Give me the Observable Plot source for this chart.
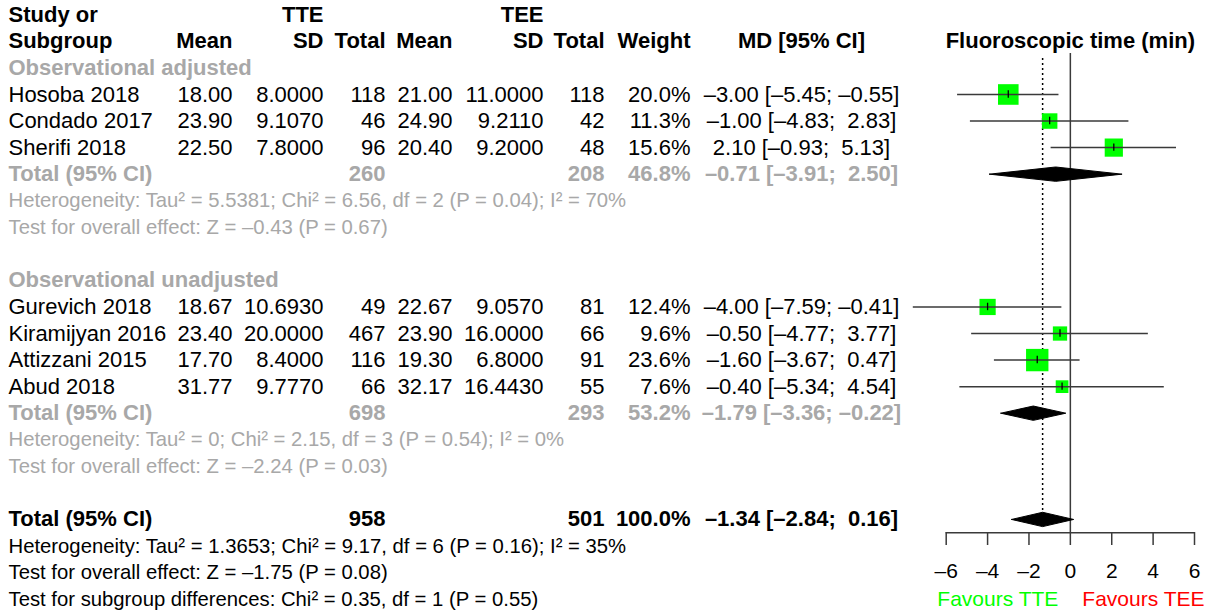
<!DOCTYPE html>
<html>
<head>
<meta charset="utf-8">
<script src="https://cdn.jsdelivr.net/npm/d3@7"></script>
<script src="https://cdn.jsdelivr.net/npm/@observablehq/plot@0.6"></script>
<style>
  html, body { margin: 0; padding: 0; background: #fff; }
  svg text { white-space: pre; }
</style>
</head>
<body>
<div id="chart"></div>
<script>
// ---------- data ----------
const studyNames = ["Hosoba 2018","Condado 2017","Sherifi 2018","Gurevich 2018","Kiramijyan 2016","Attizzani 2015","Abud 2018"];
const studyGroup = [0,0,0,1,1,1,1];
const tteMean = [18.00,23.90,22.50,18.67,23.40,17.70,31.77];
const tteSD   = [8.0000,9.1070,7.8000,10.6930,20.0000,8.4000,9.7770];
const tteN    = [118,46,96,49,467,116,66];
const teeMean = [21.00,24.90,20.40,22.67,23.90,19.30,32.17];
const teeSD   = [11.0000,9.2110,9.2000,9.0570,16.0000,6.8000,16.4430];
const teeN    = [118,42,48,81,66,91,55];
const weights = [20.0,11.3,15.6,12.4,9.6,23.6,7.6];
const md      = [-3.00,-1.00,2.10,-4.00,-0.50,-1.60,-0.40];
const ciLo    = [-5.45,-4.83,-0.93,-7.59,-4.77,-3.67,-5.34];
const ciHi    = [-0.55,2.83,5.13,-0.41,3.77,0.47,4.54];

const groupNames  = ["Observational adjusted","Observational unadjusted"];
const groupTTEN   = [260,698];
const groupTEEN   = [208,293];
const groupWeight = [46.8,53.2];
const groupMD     = [-0.71,-1.79];
const groupLo     = [-3.91,-3.36];
const groupHi     = [2.50,-0.22];
const groupHet    = ["Heterogeneity: Tau² = 5.5381; Chi² = 6.56, df = 2 (P = 0.04); I² = 70%",
                     "Heterogeneity: Tau² = 0; Chi² = 2.15, df = 3 (P = 0.54); I² = 0%"];
const groupTest   = ["Test for overall effect: Z = –0.43 (P = 0.67)",
                     "Test for overall effect: Z = –2.24 (P = 0.03)"];

const totalLabel = "Total (95% CI)";
const overallTTEN = 958, overallTEEN = 501, overallWeight = 100.0;
const overallMD = -1.34, overallLo = -2.84, overallHi = 0.16;
const overallHet  = "Heterogeneity: Tau² = 1.3653; Chi² = 9.17, df = 6 (P = 0.16); I² = 35%";
const overallTest = "Test for overall effect: Z = –1.75 (P = 0.08)";
const subgroupTest = "Test for subgroup differences: Chi² = 0.35, df = 1 (P = 0.55)";

const header1 = {study: "Study or", tte: "TTE", tee: "TEE"};
const header2 = {study: "Subgroup", mean1: "Mean", sd1: "SD", n1: "Total", mean2: "Mean", sd2: "SD", n2: "Total", w: "Weight", ci: "MD [95% CI]"};
const plotTitle = "Fluoroscopic time (min)";
const xTicks = [-6,-4,-2,0,2,4,6];
const labelLeft = "Favours TTE", labelRight = "Favours TEE";

// ---------- formatting ----------
const sgn = v => (v < 0 ? "–" : "") + Math.abs(v).toFixed(2);
const ciText = (m, lo, hi) => `${sgn(m)} [${sgn(lo)};${hi < 0 ? " " : "  "}${sgn(hi)}]`;
const pct = w => w.toFixed(1) + "%";

// ---------- layout (rows) ----------
const GREY = "#a8a8a8", GREEN = "#00ff00", RED = "#ff0000", LINE = "#3a3a3a";
const studyRows = [], labelRows = [], totalRows = [], noteRows = [];
let r = 2;
groupNames.forEach((g, gi) => {
  labelRows.push({row: r, text: g}); r++;
  studyNames.forEach((s, i) => {
    if (studyGroup[i] === gi) {
      studyRows.push({row: r, name: s, m1: tteMean[i].toFixed(2), s1: tteSD[i].toFixed(4), n1: tteN[i],
        m2: teeMean[i].toFixed(2), s2: teeSD[i].toFixed(4), n2: teeN[i], w: weights[i],
        md: md[i], lo: ciLo[i], hi: ciHi[i]});
      r++;
    }
  });
  totalRows.push({row: r, name: totalLabel, n1: groupTTEN[gi], n2: groupTEEN[gi], w: groupWeight[gi],
    md: groupMD[gi], lo: groupLo[gi], hi: groupHi[gi], fill: GREY});
  r++;
  noteRows.push({row: r, text: groupHet[gi], fill: GREY}); r++;
  noteRows.push({row: r, text: groupTest[gi], fill: GREY}); r++;
  r++;
});
const overallRow = r;
totalRows.push({row: r, name: totalLabel, n1: overallTTEN, n2: overallTEEN, w: overallWeight,
  md: overallMD, lo: overallLo, hi: overallHi, fill: "black"});
r++;
noteRows.push({row: r, text: overallHet, fill: "black"}); r++;
noteRows.push({row: r, text: overallTest, fill: "black"}); r++;
noteRows.push({row: r, text: subgroupTest, fill: "black"});
const lastRow = r;
const axisRow = overallRow + 0.5;

// column pixel anchors
const C = {study: 8, mean1: 232, sd1: 323, n1: 385, mean2: 452, sd2: 543, n2: 604, w: 690, ci: 801};
const FS = 22, FSN = 20.3;

const col = (data, text, key, anchor, extra = {}) =>
  Plot.text(data, {y: "row", text, frameAnchor: "left", dx: C[key], textAnchor: anchor, fontSize: FS, ...extra});

// diamonds
const diamonds = totalRows.flatMap((d, k) => {
  const h = 0.27;
  return [
    {k, x: d.lo, y: d.row}, {k, x: d.md, y: d.row - h}, {k, x: d.hi, y: d.row},
    {k, x: d.md, y: d.row + h}, {k, x: d.lo, y: d.row}
  ];
});

const H1 = [{row: 0}], H2 = [{row: 1}];

const chart = Plot.plot({
  width: 1211,
  height: 615,
  marginLeft: 0, marginRight: 0, marginTop: 0,
  marginBottom: 615 - 532,
  x: {domain: [-6, 6], range: [945.7, 1194], axis: null},
  y: {domain: [0, lastRow], range: [14.3, 14.3 + 26.56 * lastRow], axis: null},
  r: {type: "sqrt", domain: [0, 100], range: [0, 26]},
  style: {fontFamily: "'Liberation Sans', Arial, Helvetica, sans-serif", fontSize: FS + "px", color: "black", background: "white"},
  marks: [
    // headers
    col(H1, () => header1.study, "study", "start", {fontWeight: "bold"}),
    col(H1, () => header1.tte, "sd1", "end", {fontWeight: "bold"}),
    col(H1, () => header1.tee, "sd2", "end", {fontWeight: "bold"}),
    col(H2, () => header2.study, "study", "start", {fontWeight: "bold"}),
    col(H2, () => header2.mean1, "mean1", "end", {fontWeight: "bold"}),
    col(H2, () => header2.sd1, "sd1", "end", {fontWeight: "bold"}),
    col(H2, () => header2.n1, "n1", "end", {fontWeight: "bold"}),
    col(H2, () => header2.mean2, "mean2", "end", {fontWeight: "bold"}),
    col(H2, () => header2.sd2, "sd2", "end", {fontWeight: "bold"}),
    col(H2, () => header2.n2, "n2", "end", {fontWeight: "bold"}),
    col(H2, () => header2.w, "w", "end", {fontWeight: "bold"}),
    col(H2, () => header2.ci, "ci", "middle", {fontWeight: "bold"}),
    Plot.text(H2, {x: () => 0, y: "row", text: () => plotTitle, fontWeight: "bold", fontSize: FS, textAnchor: "middle"}),
    // group labels
    col(labelRows, "text", "study", "start", {fontWeight: "bold", fill: GREY}),
    // study rows
    col(studyRows, "name", "study", "start"),
    col(studyRows, "m1", "mean1", "end"),
    col(studyRows, "s1", "sd1", "end"),
    col(studyRows, "n1", "n1", "end"),
    col(studyRows, "m2", "mean2", "end"),
    col(studyRows, "s2", "sd2", "end"),
    col(studyRows, "n2", "n2", "end"),
    col(studyRows, d => pct(d.w), "w", "end"),
    col(studyRows, d => ciText(d.md, d.lo, d.hi), "ci", "middle"),
    // total rows
    col(totalRows, "name", "study", "start", {fontWeight: "bold", fill: "fill"}),
    col(totalRows, "n1", "n1", "end", {fontWeight: "bold", fill: "fill"}),
    col(totalRows, "n2", "n2", "end", {fontWeight: "bold", fill: "fill"}),
    col(totalRows, d => pct(d.w), "w", "end", {fontWeight: "bold", fill: "fill"}),
    col(totalRows, d => ciText(d.md, d.lo, d.hi), "ci", "middle", {fontWeight: "bold", fill: "fill"}),
    // notes
    col(noteRows, "text", "study", "start", {fill: "fill", fontSize: FSN}),
    // reference lines
    Plot.ruleX([0], {y1: 1.46, y2: axisRow, stroke: LINE, strokeWidth: 1.5}),
    Plot.ruleX([overallMD], {y1: 1.65, y2: overallRow, stroke: "black", strokeWidth: 1.5, strokeDasharray: "2,3"}),
    // squares
    Plot.dot(studyRows, {x: "md", y: "row", r: "w", symbol: "square", fill: GREEN, stroke: "none"}),
    // CI lines (drawn over the squares)
    Plot.ruleY(studyRows, {y: "row", x1: "lo", x2: "hi", stroke: LINE, strokeWidth: 1.5}),
    Plot.ruleX(studyRows, {x: "md", y1: d => d.row - 0.14, y2: d => d.row + 0.14, stroke: "black", strokeWidth: 1.3}),
    // diamonds
    Plot.line(diamonds, {x: "x", y: "y", z: "k", fill: "black", stroke: "black", strokeWidth: 1, curve: "linear"}),
    // axis
    Plot.ruleY([axisRow], {x1: d3.min(xTicks), x2: d3.max(xTicks), stroke: LINE, strokeWidth: 1.5}),
    Plot.axisX(xTicks, {anchor: "bottom", tickSize: 13, tickPadding: 18, fontSize: 21, stroke: LINE, strokeWidth: 1.5,
      tickFormat: d => (d < 0 ? "–" : "") + Math.abs(d)}),
    Plot.text([labelLeft], {x: () => 0, y: () => lastRow, text: d => d, dx: -12, textAnchor: "end", fill: GREEN, fontSize: 21}),
    Plot.text([labelRight], {x: () => 0, y: () => lastRow, text: d => d, dx: 12, textAnchor: "start", fill: RED, fontSize: 21})
  ]
});
document.getElementById("chart").appendChild(chart);
</script>
</body>
</html>
